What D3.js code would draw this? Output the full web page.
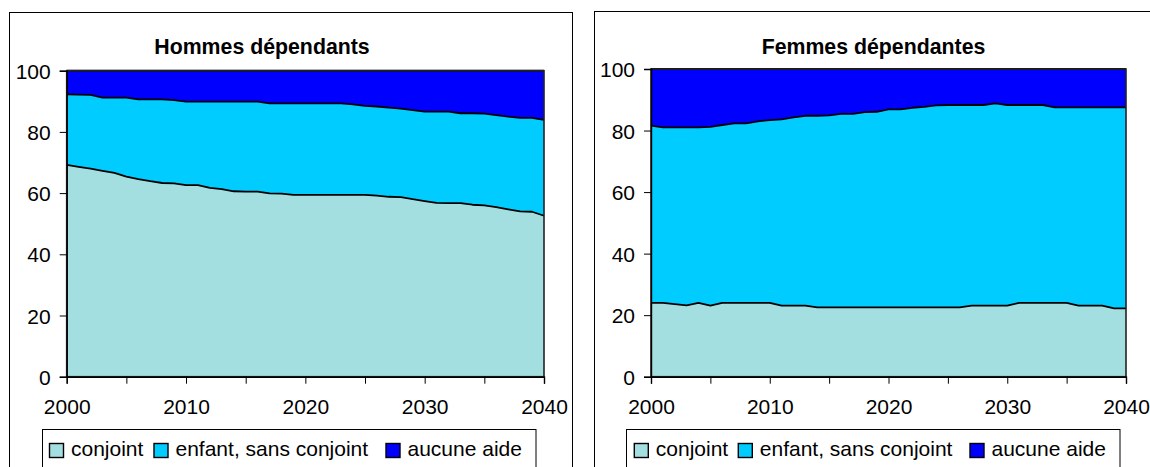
<!DOCTYPE html>
<html>
<head>
<meta charset="utf-8">
<script src="https://cdn.jsdelivr.net/npm/d3@7"></script>
<style>
  html, body { margin: 0; padding: 0; background: #fff; }
  svg { display: block; }
  text { font-family: "Liberation Sans", Arial, sans-serif; fill: #000; }
</style>
</head>
<body>
<svg id="chart" width="1150" height="467"></svg>
<script>
// ---------- DATA ----------
const years = d3.range(2000, 2041);
const seriesNames = ["conjoint", "enfant, sans conjoint", "aucune aide"];
const seriesKeys = ["conjoint", "enfant", "aucune"];
const seriesColors = ["#a3dfe0", "#00ccff", "#0000ff"];
const yTicks = [0, 20, 40, 60, 80, 100];
const xTickLabels = [2000, 2010, 2020, 2030, 2040];
const xMinorTicks = [2000, 2005, 2010, 2015, 2020, 2025, 2030, 2035, 2040];

const titleHommes = "Hommes dépendants";
const titleFemmes = "Femmes dépendantes";

const hommesConjoint = [69.2, 68.6, 68.0, 67.3, 66.6, 65.4, 64.6, 63.9, 63.3, 63.2,
  62.6, 62.6, 61.7, 61.3, 60.6, 60.5, 60.5, 59.9, 59.8, 59.4,
  59.4, 59.4, 59.4, 59.4, 59.4, 59.4, 59.2, 58.8, 58.7, 58.0,
  57.4, 56.8, 56.7, 56.7, 56.2, 56.0, 55.4, 54.7, 54.0, 53.9, 52.6];
const hommesEnfant = [23.1, 23.6, 24.1, 23.9, 24.6, 25.8, 26.0, 26.7, 27.3, 27.2,
  27.3, 27.3, 28.2, 28.6, 29.3, 29.4, 29.4, 29.4, 29.5, 29.9,
  29.9, 29.9, 29.9, 29.9, 29.6, 29.1, 29.1, 29.1, 28.9, 29.1,
  29.2, 29.8, 29.9, 29.4, 29.9, 30.0, 30.1, 30.3, 30.6, 30.7, 31.3];
const hommesAucune = [7.7, 7.8, 7.9, 8.8, 8.8, 8.8, 9.4, 9.4, 9.4, 9.6,
  10.1, 10.1, 10.1, 10.1, 10.1, 10.1, 10.1, 10.7, 10.7, 10.7,
  10.7, 10.7, 10.7, 10.7, 11.0, 11.5, 11.7, 12.1, 12.4, 12.9,
  13.4, 13.4, 13.4, 13.9, 13.9, 14.0, 14.5, 15.0, 15.4, 15.4, 16.1];

const femmesConjoint = [24.0, 24.0, 23.6, 23.2, 24.0, 23.1, 24.0, 24.0, 24.0, 24.0,
  24.0, 23.1, 23.1, 23.1, 22.5, 22.5, 22.5, 22.5, 22.5, 22.5,
  22.5, 22.5, 22.5, 22.5, 22.5, 22.5, 22.5, 23.1, 23.1, 23.1,
  23.1, 24.0, 24.0, 24.0, 24.0, 24.0, 23.1, 23.1, 23.1, 22.2, 22.2];
const femmesEnfant = [57.6, 57.0, 57.4, 57.8, 57.0, 58.1, 57.8, 58.3, 58.3, 59.0,
  59.4, 60.5, 61.2, 61.7, 62.3, 62.4, 62.9, 62.9, 63.5, 63.6,
  64.4, 64.4, 64.9, 65.2, 65.7, 65.8, 65.8, 65.2, 65.2, 65.7,
  65.2, 64.3, 64.3, 64.3, 63.5, 63.5, 64.4, 64.4, 64.4, 65.3, 65.3];
const femmesAucune = [18.4, 19.0, 19.0, 19.0, 19.0, 18.8, 18.2, 17.7, 17.7, 17.0,
  16.6, 16.4, 15.7, 15.2, 15.2, 15.1, 14.6, 14.6, 14.0, 13.9,
  13.1, 13.1, 12.6, 12.3, 11.8, 11.7, 11.7, 11.7, 11.7, 11.2,
  11.7, 11.7, 11.7, 11.7, 12.5, 12.5, 12.5, 12.5, 12.5, 12.5, 12.5];

// ---------- DRAW ----------
const svg = d3.select("#chart");
const FONT = "'Liberation Sans', Arial, sans-serif";

function buildRows(c, e, a) {
  return years.map((y, i) => ({ year: y, conjoint: c[i], enfant: e[i], aucune: a[i] }));
}

function drawChart(cfg) {
  const g = svg.append("g");
  // outer frame
  g.append("rect")
    .attr("x", cfg.frame.x).attr("y", cfg.frame.y)
    .attr("width", cfg.frame.w).attr("height", cfg.frame.h)
    .attr("fill", "#fff").attr("stroke", "#000").attr("stroke-width", 1);

  const x = d3.scaleLinear().domain([2000, 2040]).range([cfg.plot.x0, cfg.plot.x1]);
  const y = d3.scaleLinear().domain([0, 100]).range([cfg.plot.y1, cfg.plot.y0]);

  const rows = buildRows(cfg.c, cfg.e, cfg.a);
  const stacked = d3.stack().keys(seriesKeys)(rows);

  const area = d3.area()
    .x(d => x(d.data.year))
    .y0(d => y(d[0]))
    .y1(d => y(d[1]));
  const line = d3.line()
    .x(d => x(d.data.year))
    .y(d => y(d[1]));

  g.selectAll("path.area").data(stacked).join("path")
    .attr("class", "area")
    .attr("d", area)
    .attr("fill", (d, i) => seriesColors[i]);

  // boundary lines
  g.selectAll("path.bound").data(stacked).join("path")
    .attr("class", "bound")
    .attr("d", line)
    .attr("fill", "none")
    .attr("stroke", "#000")
    .attr("stroke-width", 1.8)
    .attr("stroke-linejoin", "round");

  // plot-area border
  g.append("rect")
    .attr("x", cfg.plot.x0).attr("y", cfg.plot.y0)
    .attr("width", cfg.plot.x1 - cfg.plot.x0).attr("height", cfg.plot.y1 - cfg.plot.y0)
    .attr("fill", "none").attr("stroke", "#222").attr("stroke-width", 1.6);

  // Y axis
  const yAxis = d3.axisLeft(y).tickValues(yTicks).tickSize(7).tickPadding(9);
  const ya = g.append("g").attr("transform", `translate(${cfg.plot.x0},0)`).call(yAxis);
  ya.select(".domain").attr("stroke", "#000").attr("stroke-width", 1.4);
  ya.selectAll(".tick line").attr("stroke", "#000").attr("stroke-width", 1);
  ya.selectAll(".tick text")
    .style("font-family", FONT)
    .style("font-size", "21px").attr("fill", "#000").attr("dy", "0.36em");

  // X axis
  const xAxis = d3.axisBottom(x).tickValues(xMinorTicks).tickSize(7)
    .tickFormat(d => xTickLabels.includes(d) ? String(d) : "").tickPadding(15);
  const xa = g.append("g").attr("transform", `translate(0,${cfg.plot.y1})`).call(xAxis);
  xa.select(".domain").attr("stroke", "#000").attr("stroke-width", 1.4);
  xa.selectAll(".tick line").attr("stroke", "#000").attr("stroke-width", 1);
  xa.selectAll(".tick text")
    .style("font-family", FONT)
    .style("font-size", "21px").attr("fill", "#000");

  // Title
  g.append("text")
    .attr("x", cfg.titleX).attr("y", 54)
    .attr("text-anchor", "middle")
    .style("font-size", "21.3px").style("font-weight", "bold")
    .text(cfg.title);

  // Legend
  const lg = g.append("g");
  lg.append("rect")
    .attr("x", cfg.legend.x0).attr("y", 429.5)
    .attr("width", cfg.legend.x1 - cfg.legend.x0).attr("height", 60)
    .attr("fill", "#fff").attr("stroke", "#000").attr("stroke-width", 1);
  seriesNames.forEach((name, i) => {
    const cx = cfg.legend.x0 + cfg.legend.items[i];
    lg.append("rect")
      .attr("x", cx).attr("y", 443.5).attr("width", 14).attr("height", 14)
      .attr("fill", seriesColors[i]).attr("stroke", "#000").attr("stroke-width", 1.4);
    lg.append("text")
      .attr("x", cx + 21.5).attr("y", 456)
      .style("font-size", "21px")
      .text(name);
  });
}

drawChart({
  frame: { x: 9.5, y: 12.5, w: 563, h: 480 },
  plot: { x0: 66.7, x1: 544, y0: 70.7, y1: 376.7 },
  titleX: 262, title: titleHommes,
  legend: { x0: 42.5, x1: 536, items: [7, 111.5, 343.5] },
  c: hommesConjoint, e: hommesEnfant, a: hommesAucune
});

drawChart({
  frame: { x: 594.5, y: 11.5, w: 600, h: 480 },
  plot: { x0: 651, x1: 1126, y0: 69, y1: 376.7 },
  titleX: 873.5, title: titleFemmes,
  legend: { x0: 626.5, x1: 1120, items: [7.8, 111.8, 343.5] },
  c: femmesConjoint, e: femmesEnfant, a: femmesAucune
});
</script>
</body>
</html>
